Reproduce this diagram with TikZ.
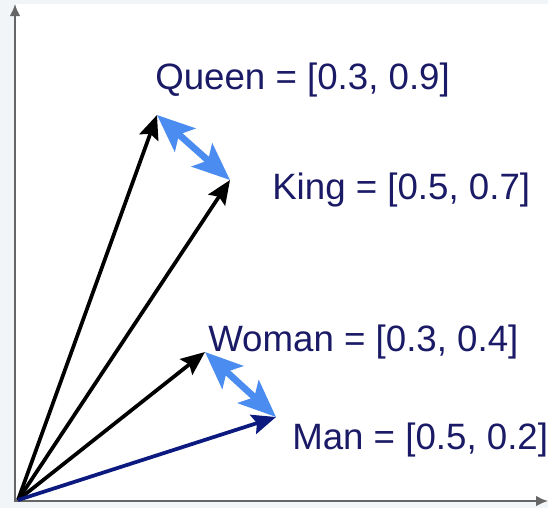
\documentclass[tikz,border=0pt]{standalone}
\usepackage{fontspec}
\setmainfont{Liberation Sans}
\usetikzlibrary{arrows.meta}
\definecolor{pagebg}{HTML}{F2F5F8}
\definecolor{axisgray}{HTML}{666666}
\definecolor{labelnavy}{HTML}{1A1A66}
\definecolor{mannavy}{HTML}{0C1A80}
\definecolor{diffblue}{HTML}{4A8CF0}
\tikzset{
  axisline/.style={draw=axisgray, line width=1.5pt, -{Latex[length=9pt, width=8pt]}},
  vec/.style={draw=black, line width=2.8pt, -{Stealth[length=18pt, width=15pt, inset=3pt]}},
  manvec/.style={vec, draw=mannavy},
  diffarrow/.style={draw=diffblue, line width=5pt,
    {Stealth[length=28pt, width=23pt, inset=6pt]}-{Stealth[length=28pt, width=23pt, inset=6pt]}},
  wordlabel/.style={text=labelnavy, font=\fontsize{27.5pt}{30pt}\selectfont, anchor=base west, inner sep=0pt}
}
\begin{document}
\begin{tikzpicture}[x=0.75pt, y=-0.75pt]
  % canvas
  \fill[pagebg] (0,0) rectangle (548,508);
  \fill[white] (16,4) rectangle (548,500);
  \useasboundingbox (0,0) rectangle (548,508);
  % axes
  \coordinate (O) at (18,500);
  \coordinate (ybase) at (15,501);
  \coordinate (ytop) at (15,4);
  \coordinate (xbase) at (14,501);
  \coordinate (xend) at (548,501);
  \draw[axisline] (ybase) -- (ytop);
  \draw[axisline] (xbase) -- (xend);
  % vector tips
  \coordinate (Q) at (157,115);
  \coordinate (K) at (230,180);
  \coordinate (W) at (205,352);
  \coordinate (M) at (276,417);
  % vectors
  \draw[vec] (O) -- (Q);
  \draw[vec] (O) -- (K);
  \draw[vec] (O) -- (W);
  \draw[manvec] (O) -- (M);
  % differences
  \draw[diffarrow] (Q) -- (K);
  \draw[diffarrow] (W) -- (M);
  % labels
  \node[wordlabel] (lq) at (155,89) {Queen = [0.3, 0.9]};
  \node[wordlabel] (lk) at (272,199) {King = [0.5, 0.7]};
  \node[wordlabel] (lw) at (208,351) {Woman = [0.3, 0.4]};
  \node[wordlabel] (lm) at (292,449) {Man = [0.5, 0.2]};
\end{tikzpicture}
\end{document}
